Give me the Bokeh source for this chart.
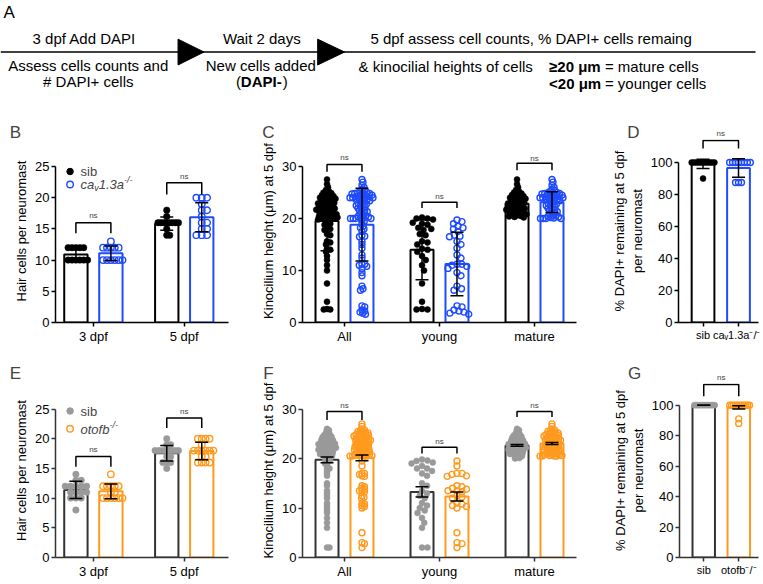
import numpy as np
from bokeh.plotting import figure
from bokeh.models import Range1d, FixedTicker, Label, ColumnDataSource, Whisker, TeeHead
from bokeh.layouts import column, row
from bokeh.embed import file_html
from bokeh.resources import INLINE
from bokeh.core.properties import value

FONT = "Liberation Sans"
BLUE = "#1f4bff"
ORANGE = "#ff9a1e"
GRAY = "#9a9a9a"
DARK = "#333333"

# ---------------- data ----------------
# B: hair cells per neuromast (sib vs cav1.3a-/-)
b_groups = ["3 dpf", "5 dpf"]
b_sib_3dpf = [12, 12, 12, 12, 12, 10, 10, 10, 10, 10, 10]
b_sib_5dpf = [18, 17, 16, 16, 16, 16, 16, 16, 16, 16, 15, 14, 14]
b_cav_3dpf = [13, 12, 12, 12, 12, 12, 10, 10, 10, 10, 10, 10]
b_cav_5dpf = [20, 20, 20, 19, 18, 18, 17, 16, 16, 15, 15, 14, 14, 14]

# C: kinocilium height at 5 dpf (All = young + mature)
c_groups = ["All", "young", "mature"]
c_sib_young = [20.2, 20.0, 19.8, 20.0, 19.2, 19.0, 18.8, 18.2, 18.0, 17.8, 17.0, 16.8, 15.6, 15.4,
               15.0, 14.2, 14.0, 13.6, 12.8, 12.0, 11.0, 10.0, 7.5, 4.0, 2.6, 2.5, 2.5]
c_sib_mature = [27.5, 26.6, 26.0, 25.5, 25.2, 25.0, 24.8, 24.6, 24.5, 24.3, 24.2, 24.0, 24.0, 23.8,
                23.6, 23.5, 23.4, 23.2, 23.0, 23.0, 22.9, 22.8, 22.6, 22.5, 22.4, 22.2, 22.1, 22.0,
                22.0, 21.9, 21.7, 21.6, 21.5, 21.4, 21.2, 21.1, 21.0, 20.9, 20.8, 20.7, 20.6, 20.5,
                20.4, 20.3, 20.2]
c_cav_young = [19.7, 19.4, 19.0, 18.5, 18.2, 18.0, 17.5, 16.8, 16.6, 16.5, 15.6, 15.0, 14.3, 13.0,
               12.4, 11.2, 11.0, 11.2, 10.8, 10.4, 9.6, 9.0, 7.0, 6.5, 6.2, 3.2, 3.0, 2.4, 2.2, 2.0,
               1.8, 1.6]
c_cav_mature = [27.5, 27.0, 26.4, 26.0, 25.6, 25.4, 25.2, 25.0, 25.0, 24.9, 24.8, 24.8, 24.7, 24.6,
                24.5, 24.5, 24.4, 24.3, 24.2, 24.2, 24.1, 24.0, 24.0, 24.0, 23.9, 23.8, 23.7, 23.6,
                23.5, 23.4, 23.2, 23.0, 22.9, 22.8, 22.6, 22.5, 22.3, 22.2, 22.0, 21.8, 21.6, 21.5,
                21.3, 21.2, 21.0, 20.8, 20.6, 20.5, 20.4, 20.3, 20.2, 20.1, 20.0, 20.0, 20.0, 20.0]

# D: % DAPI+ remaining at 5 dpf
d_groups = ["sib", "ca\u1d651.3a\u207b/\u207b"]
d_sib = [100, 100, 100, 100, 100, 100, 100, 100, 100, 100, 100, 90]
d_cav = [100, 100, 100, 100, 100, 100, 100, 100, 87.5, 87.5, 87.5]

# E: hair cells per neuromast (sib vs otofb-/-)
e_groups = ["3 dpf", "5 dpf"]
e_sib_3dpf = [14, 13, 13, 12, 12, 12, 12, 12, 11, 11, 11, 11, 10, 10, 10, 8]
e_sib_5dpf = [20, 19, 19, 18, 18, 18, 18, 18, 18, 18, 17, 17, 16, 16, 16, 15]
e_oto_3dpf = [14, 12, 12, 12, 12, 12, 11, 11, 10, 10, 10, 10, 10, 10]
e_oto_5dpf = [20, 20, 20, 20, 19, 18, 18, 18, 18, 18, 18, 17, 17, 16, 16, 16, 16]

# F: kinocilium height at 5 dpf (All = young + mature)
f_groups = ["All", "young", "mature"]
f_sib_young = [19.8, 19.6, 19.5, 19.2, 19.0, 18.5, 18.0, 18.0, 17.5, 17.0, 16.5, 15.0, 14.5, 13.5,
               13.0, 12.5, 12.0, 11.0, 10.5, 10.0, 9.5, 9.0, 8.0, 7.0, 6.0, 2.0, 2.0]
f_sib_mature = [26.0, 25.7, 25.5, 25.2, 25.0, 24.8, 24.7, 24.5, 24.4, 24.3, 24.2, 24.0, 23.9, 23.8,
                23.8, 23.7, 23.6, 23.5, 23.4, 23.3, 23.2, 23.2, 23.1, 23.0, 23.0, 22.9, 22.8, 22.8,
                22.7, 22.6, 22.5, 22.5, 22.4, 22.3, 22.2, 22.2, 22.1, 22.0, 22.0, 21.9, 21.8, 21.8,
                21.7, 21.6, 21.5, 21.5, 21.4, 21.3, 21.2, 21.1, 21.0, 21.0, 20.9, 20.8, 20.7, 20.6,
                20.5, 20.3, 20.1, 20.0]
f_oto_young = [19.5, 18.5, 17.0, 17.0, 16.8, 16.5, 16.4, 14.5, 14.3, 14.0, 13.8, 13.5, 13.5, 13.3,
               12.5, 12.2, 12.0, 11.0, 10.8, 10.5, 10.3, 10.0, 5.0, 3.0, 2.8, 2.0]
f_oto_mature = [27.0, 26.5, 26.0, 25.8, 25.6, 25.5, 25.4, 25.3, 25.2, 25.1, 25.0, 24.9, 24.8, 24.8,
                24.7, 24.6, 24.5, 24.5, 24.4, 24.3, 24.2, 24.1, 24.0, 24.0, 23.9, 23.8, 23.7, 23.6,
                23.5, 23.5, 23.4, 23.3, 23.2, 23.1, 23.0, 23.0, 22.9, 22.8, 22.7, 22.6, 22.5, 22.5,
                22.4, 22.3, 22.2, 22.1, 22.0, 22.0, 21.9, 21.8, 21.7, 21.6, 21.5, 21.5, 21.4, 21.3,
                21.2, 21.1, 21.0, 21.0, 20.9, 20.8, 20.8, 20.7, 20.6, 20.6, 20.5, 20.5, 20.5, 20.5]

# G: % DAPI+ remaining at 5 dpf
g_groups = ["sib", "otofb\u207b/\u207b"]
g_sib = [100, 100, 100, 100, 100, 100, 100, 100, 100, 100, 100, 100, 100, 100]
g_oto = [100, 100, 100, 100, 100, 100, 100, 100, 100, 100, 100, 100, 91, 88]

# "ns" bracket heights (top, leg end, label) per comparison
b_br = [(16.0, 14.3, 17.1), (22.4, 20.5, 23.4)]
c_br = [(30.4, 29.0, 31.7), (23.1, 22.0, 24.3), (30.6, 29.3, 31.6)]
d_br = [(113.7, 108.7, 118.1)]
e_br = [(17.0, 15.3, 18.2), (23.5, 21.8, 24.6)]
f_br = [(29.5, 27.8, 30.8), (22.3, 21.0, 23.5), (29.5, 28.4, 30.7)]
g_br = [(113.5, 105.8, 118.0)]

# ---------------- helpers ----------------
W = {'a': .556, 'c': .5, 'v': .5, '1': .556, '.': .278, '3': .556, '-': .333, '/': .278,
     'o': .556, 't': .278, 'f': .278, 'b': .556, 's': .5, 'i': .222}


def tw(s, size):
    return sum(W.get(ch, 0.55) for ch in s) * size


def rich(p, x, y, parts, dx, dy):
    cur = dx
    for t, sz, ddy in parts:
        p.add_layout(Label(x=x, y=y, x_offset=cur, y_offset=dy + ddy, text=t, text_font=FONT,
                           text_font_size=f"{sz}px", text_font_style="italic",
                           text_baseline="middle", text_align="left"))
        cur += tw(t, sz)


def swarm(vals, ppx, ppy, limit, d0=5.5, dmin=1.5):
    v = np.asarray(vals, float)
    order = np.argsort(-v, kind="stable")
    steps = np.arange(1, 240) * 0.25
    cand = np.concatenate([[0.0], np.ravel(np.column_stack([steps, -steps]))])
    d = d0
    while True:
        px = np.zeros(len(v))
        ax, ay = [], []
        for i in order:
            y = v[i] * ppy
            c = 0.0
            if ax:
                axa = np.array(ax)
                aya = np.array(ay)
                near = np.abs(aya - y) < d
                if near.any():
                    dxm = cand[:, None] - axa[near][None, :]
                    dym = (aya[near] - y)[None, :]
                    ok = np.all(dxm * dxm + dym * dym >= d * d - 1e-9, axis=1)
                    c = cand[np.argmax(ok)] if ok.any() else cand[-1]
            px[i] = c
            ax.append(c)
            ay.append(y)
        if np.max(np.abs(px)) <= limit or d <= dmin:
            return px / ppx
        d -= 0.25


def frame_size(g):
    return g["w"] - g["bl"] - g["br"], g["h"] - g["bt"] - g["bb"]


def make_panel(g, yticks, ylabel, xticks, xlabels, series, err, brackets, ns_above,
               letter, ldx, ldy, axis_color, limit, pt_size, xfont="13px"):
    fw, fh = frame_size(g)
    p = figure(width=g["w"], height=g["h"],
               min_border_left=g["bl"], min_border_right=g["br"],
               min_border_top=g["bt"], min_border_bottom=g["bb"],
               x_range=Range1d(*g["xr"]), y_range=Range1d(0, g["ye"]),
               toolbar_location=None, output_backend="svg")
    p.outline_line_color = None
    p.grid.visible = False
    ppx = fw / (g["xr"][1] - g["xr"][0])
    ppy = fh / g["ye"]
    for s in series:
        means = [float(np.mean(v)) for v in s["data"]]
        p.vbar(x=s["x"], top=means, width=g["bw"], fill_color="white",
               line_color=s["bar"], line_width=2)
    for s in series:
        px, py = [], []
        for x, v in zip(s["x"], s["data"]):
            offs = swarm(v, ppx, ppy, limit)
            px += list(x + offs)
            py += list(v)
        if s["filled"]:
            p.scatter(px, py, size=pt_size, fill_color=s["pt"], line_color=s["pt"], line_width=0.5)
        else:
            p.scatter(px, py, size=pt_size, fill_color=None, line_color=s["pt"], line_width=1.4)
    for s in series:
        m = np.array([np.mean(v) for v in s["data"]])
        e = np.array([np.std(v, ddof=1) / (np.sqrt(len(v)) if err == "sem" else 1.0)
                      for v in s["data"]])
        src = ColumnDataSource(dict(x=list(s["x"]), lo=list(m - e), hi=list(m + e)))
        wk = Whisker(source=src, base="x", lower="lo", upper="hi", dimension="height",
                     line_color="black", line_width=1.5, level="overlay",
                     upper_head=TeeHead(size=13, line_color="black", line_width=1.5),
                     lower_head=TeeHead(size=13, line_color="black", line_width=1.5))
        p.add_layout(wk)
    xs_b, ys_b = [], []
    for i, (yt, yl, yn) in enumerate(brackets):
        x1 = series[0]["x"][i]
        x2 = series[1]["x"][i]
        xs_b.append([x1, x1, x2, x2])
        ys_b.append([yl, yt, yt, yl])
        lab = Label(x=(x1 + x2) / 2, y=yn, text="ns", text_font=FONT, text_font_size="8px",
                    text_align="center", text_baseline="middle")
        if ns_above:
            p.add_layout(lab, "above")
        else:
            p.add_layout(lab)
    p.multi_line(xs_b, ys_b, line_color="black", line_width=1.5)

    for ax in (p.xaxis[0], p.yaxis[0]):
        ax.axis_line_color = axis_color
        ax.axis_line_width = 1.5
        ax.major_tick_line_color = axis_color
        ax.major_tick_line_width = 1.5
        ax.major_tick_out = 4
        ax.major_tick_in = 0
        ax.minor_tick_line_color = None
        ax.major_label_text_font = FONT
        ax.major_label_text_font_size = "13px"
        ax.major_label_text_color = "black"
        ax.major_label_standoff = 2
    ya = p.yaxis[0]
    ya.ticker = FixedTicker(ticks=yticks)
    ya.bounds = (0, yticks[-1])
    ya.axis_label = ylabel
    ya.axis_label_text_font = FONT
    ya.axis_label_text_font_size = "13px"
    ya.axis_label_text_font_style = "normal"
    ya.axis_label_text_color = "black"
    ya.axis_label_standoff = 3
    xa = p.xaxis[0]
    xa.ticker = FixedTicker(ticks=xticks)
    xa.major_label_overrides = {t: lab for t, lab in zip(xticks, xlabels)}
    xa.major_label_text_font_size = xfont
    # panel letter lives in the left side panel (not clipped to the frame)
    p.add_layout(Label(x=g["xr"][0], y=g["ye"], x_offset=ldx, y_offset=ldy, text=letter,
                       text_font=FONT, text_font_size="17px", text_align="center",
                       text_baseline="middle"), "left")
    return p


def add_legend(p, g, ytop, items):
    fw, fh = frame_size(g)
    ppx = fw / (g["xr"][1] - g["xr"][0])
    ppy = fh / g["ye"]
    for filled, color, dy, parts in items:
        xm = g["xr"][0] + 15 / ppx
        ym = ytop - dy / ppy
        if filled:
            p.scatter([xm], [ym], size=6.5, fill_color=color, line_color=color)
        else:
            p.scatter([xm], [ym], size=6.5, fill_color=None, line_color=color, line_width=1.4)
        if parts is None:
            p.add_layout(Label(x=g["xr"][0], y=ytop, x_offset=25, y_offset=-dy, text="sib",
                               text_font=FONT, text_font_size="13px", text_baseline="middle"))
        else:
            rich(p, g["xr"][0], ytop, parts, 25, -dy)


# ---------------- panel A: timeline ----------------
pa = figure(width=761, height=117, x_range=Range1d(0, 763), y_range=Range1d(118, 0),
            toolbar_location=None, output_backend="svg", min_border=0,
            x_axis_location=None, y_axis_location=None)
pa.outline_line_color = None
pa.grid.visible = False
pa.line([0, 757], [52, 52], line_color="black", line_width=1.5)
pa.patches([[178, 178, 204], [318, 318, 345]], [[39, 65, 52], [39, 65, 52]], color="black")
pa.text([3], [12], ["A"], text_font=value(FONT), text_font_size="17px",
        text_align="left", text_baseline="middle")
pa.text([84, 262, 532, 88, 261, 88],
        [38, 38, 38, 66, 66, 82],
        ["3 dpf Add DAPI", "Wait 2 days", "5 dpf assess cell counts, % DAPI+ cells remaing",
         "Assess cells counts and", "New cells added", "# DAPI+ cells"],
        text_font=value(FONT), text_font_size="15px", text_align="center", text_baseline="middle")
pa.text([236, 283], [82, 82], ["(", ")"], text_font=value(FONT), text_font_size="15px",
        text_align="left", text_baseline="middle")
pa.text([241], [82], ["DAPI-"], text_font=value(FONT), text_font_size="15px",
        text_font_style="bold", text_align="left", text_baseline="middle")
pa.text([359, 606, 606], [67, 67, 84],
        ["& kinocilial heights of cells", "= mature cells", "= younger cells"],
        text_font=value(FONT), text_font_size="15px", text_align="left", text_baseline="middle")
pa.text([550, 550], [67, 84], ["\u226520 \u03bcm", "<20 \u03bcm"], text_font=value(FONT),
        text_font_size="15px", text_font_style="bold", text_align="left", text_baseline="middle")

# ---------------- geometry (identical top/bottom borders within a row) ----------------
R1 = dict(h=237, bt=22, bb=32)
R2 = dict(h=227, bt=29, bb=21)
gB = dict(R1, w=232, bl=50, br=4, xr=(0.583, 2.487), off=0.1925, bw=0.257, ye=29.33)
gC = dict(R1, w=364, bl=70, br=20, xr=(0.558, 3.442), off=0.184, bw=0.242, ye=35.19)
gD = dict(R1, w=164, bl=74, br=2, xr=(0.308, 2.564), off=0.0, bw=0.641, ye=114.4)
gE = dict(R2, w=232, bl=50, br=4, xr=(0.583, 2.487), off=0.1925, bw=0.257, ye=29.3)
gF = dict(R2, w=364, bl=70, br=20, xr=(0.558, 3.442), off=0.184, bw=0.242, ye=35.17)
gG = dict(R2, w=164, bl=74, br=2, xr=(0.308, 2.564), off=0.0, bw=0.641, ye=114.2)

cav_parts = [("ca", 13, 0), ("v", 9, -3.5), ("1.3a", 13, 0), ("-/-", 9, 4.5)]
oto_parts = [("otofb", 13, 0), ("-/-", 9, 4.5)]

# B
xB = [1, 2]
pB = make_panel(gB, [0, 5, 10, 15, 20, 25], "Hair cells per neuromast", xB, b_groups,
                [dict(x=[c - gB["off"] for c in xB], data=[b_sib_3dpf, b_sib_5dpf], bar="black", pt="black", filled=True),
                 dict(x=[c + gB["off"] for c in xB], data=[b_cav_3dpf, b_cav_5dpf], bar=BLUE, pt=BLUE, filled=False)],
                "sd", b_br, False, "B", -40, 7, "black", 12, 6.5)
add_legend(pB, gB, 25, [(True, "black", 5, None), (False, BLUE, 18, cav_parts)])

# C
xC = [1, 2, 3]
pC = make_panel(gC, [0, 10, 20, 30], "Kinocilium height (\u03bcm) at 5 dpf", xC, c_groups,
                [dict(x=[c - gC["off"] for c in xC],
                      data=[c_sib_young + c_sib_mature, c_sib_young, c_sib_mature], bar="black", pt="black", filled=True),
                 dict(x=[c + gC["off"] for c in xC],
                      data=[c_cav_young + c_cav_mature, c_cav_young, c_cav_mature], bar=BLUE, pt=BLUE, filled=False)],
                "sd", c_br, False, "C", -34, 7, "black", 12, 6)

# D
pD = make_panel(gD, [0, 20, 40, 60, 80, 100], "% DAPI+ remaining at 5 dpf\nper neuromast",
                [1, 2], d_groups,
                [dict(x=[1], data=[d_sib], bar="black", pt="black", filled=True),
                 dict(x=[2], data=[d_cav], bar=BLUE, pt=BLUE, filled=False)],
                "sd", d_br, True, "D", -45, 7, "black", 13, 6, xfont="11px")

# E
pE = make_panel(gE, [0, 5, 10, 15, 20, 25], "Hair cells per neuromast", xB, e_groups,
                [dict(x=[c - gE["off"] for c in xB], data=[e_sib_3dpf, e_sib_5dpf], bar=DARK, pt=GRAY, filled=True),
                 dict(x=[c + gE["off"] for c in xB], data=[e_oto_3dpf, e_oto_5dpf], bar=ORANGE, pt=ORANGE, filled=False)],
                "sd", e_br, False, "E", -40, 10, DARK, 12, 6.5)
add_legend(pE, gE, 25, [(True, GRAY, 2.0, None), (False, ORANGE, 20, oto_parts)])

# F
pF = make_panel(gF, [0, 10, 20, 30], "Kinocilium height (\u03bcm) at 5 dpf", xC, f_groups,
                [dict(x=[c - gF["off"] for c in xC],
                      data=[f_sib_young + f_sib_mature, f_sib_young, f_sib_mature], bar=DARK, pt=GRAY, filled=True),
                 dict(x=[c + gF["off"] for c in xC],
                      data=[f_oto_young + f_oto_mature, f_oto_young, f_oto_mature], bar=ORANGE, pt=ORANGE, filled=False)],
                "sem", f_br, False, "F", -34, 10, DARK, 12, 6)

# G
pG = make_panel(gG, [0, 20, 40, 60, 80, 100], "% DAPI+ remaining at 5 dpf\nper neuromast",
                [1, 2], g_groups,
                [dict(x=[1], data=[g_sib], bar=DARK, pt=GRAY, filled=True),
                 dict(x=[2], data=[g_oto], bar=ORANGE, pt=ORANGE, filled=False)],
                "sem", g_br, True, "G", -45, 10, DARK, 13, 6, xfont="11px")

layout = column(pa, row(pB, pC, pD), row(pE, pF, pG))
open("out.html", "w").write(file_html(layout, INLINE))
